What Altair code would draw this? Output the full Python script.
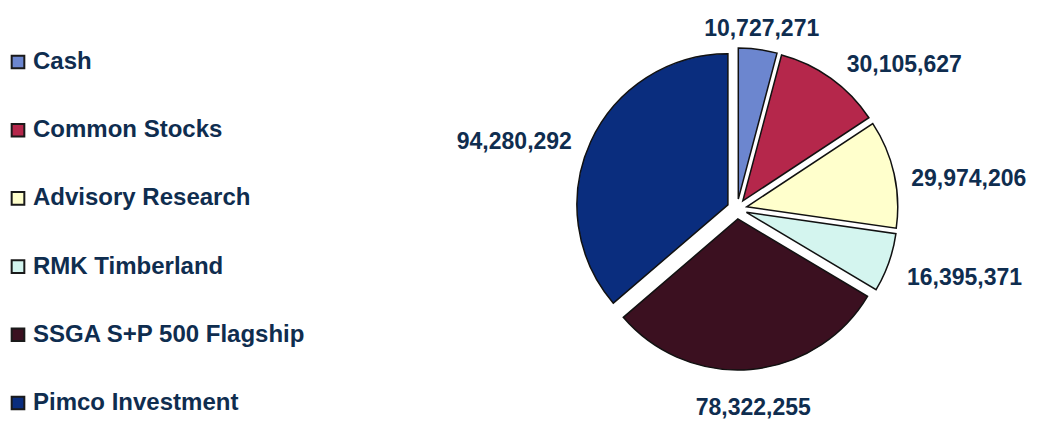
import altair as alt
import pandas as pd

categories = ["Cash", "Common Stocks", "Advisory Research", "RMK Timberland",
              "SSGA S+P 500 Flagship", "Pimco Investment"]
values = [10727271, 30105627, 29974206, 16395371, 78322255, 94280292]
labels = ["10,727,271", "30,105,627", "29,974,206", "16,395,371", "78,322,255", "94,280,292"]
colors = ["#6c86cf", "#b5274b", "#ffffcc", "#d4f5ef", "#3b1020", "#0a2d7e"]

df = pd.DataFrame({"category": categories, "value": values, "label": labels,
                   "idx": list(range(len(categories)))})

CX, CY, R, EXPLODE = 737, 209, 151, 10
TXT = "#0f2d4f"
FONT = "Arial, 'Liberation Sans', sans-serif"

base = alt.Chart(df).transform_window(
    cum="sum(value)", sort=[alt.SortField("idx")], frame=[None, 0]
).transform_joinaggregate(total="sum(value)").transform_calculate(
    start="(datum.cum - datum.value) / datum.total * 2 * PI",
    end="datum.cum / datum.total * 2 * PI",
).transform_calculate(
    mid="(datum.start + datum.end) / 2"
).transform_calculate(
    cx=f"{CX} + {EXPLODE} * sin(datum.mid)",
    cy=f"{CY} - {EXPLODE} * cos(datum.mid)",
    lr=f"{R + EXPLODE + 14} + 16 * abs(cos(datum.mid))",
).transform_calculate(
    lx=f"{CX} + datum.lr * sin(datum.mid)",
    ly=f"{CY} - datum.lr * cos(datum.mid)",
    s="sin(datum.mid)",
)

arcs = base.mark_arc(outerRadius=R, stroke="#111111", strokeWidth=1.5).encode(
    theta=alt.Theta("start:Q", scale=None),
    theta2="end:Q",
    x=alt.X("cx:Q", scale=None),
    y=alt.Y("cy:Q", scale=None),
    color=alt.Color(
        "category:N",
        scale=alt.Scale(domain=categories, range=colors),
        sort=categories,
        legend=alt.Legend(
            title=None, orient="none", legendX=6, legendY=50, padding=0,
            symbolType="square", symbolSize=160, symbolStrokeColor="#1a1a1a",
            symbolStrokeWidth=2, labelFont=FONT, labelFontSize=24,
            labelFontWeight="bold", labelColor=TXT, rowPadding=44.2, labelOffset=3,
            labelLimit=400,
        ),
    ),
)

def text_layer(cond, align):
    return base.transform_filter(cond).mark_text(
        align=align, baseline="middle", font=FONT, fontSize=23,
        fontWeight="bold", color=TXT, dy=9,
    ).encode(
        x=alt.X("lx:Q", scale=None),
        y=alt.Y("ly:Q", scale=None),
        text="label:N",
    )

right = text_layer("datum.s > 0.35", "left")
left = text_layer("datum.s < -0.35", "right")
center = text_layer("abs(datum.s) <= 0.35", "center")

chart = alt.layer(arcs, right, left, center).properties(
    width=1042, height=424, padding=0, autosize=alt.AutoSizeParams(type="none"),
    background="white",
).configure_view(stroke=None)

chart.save("out.html", embed_options={"renderer": "svg", "actions": False})
